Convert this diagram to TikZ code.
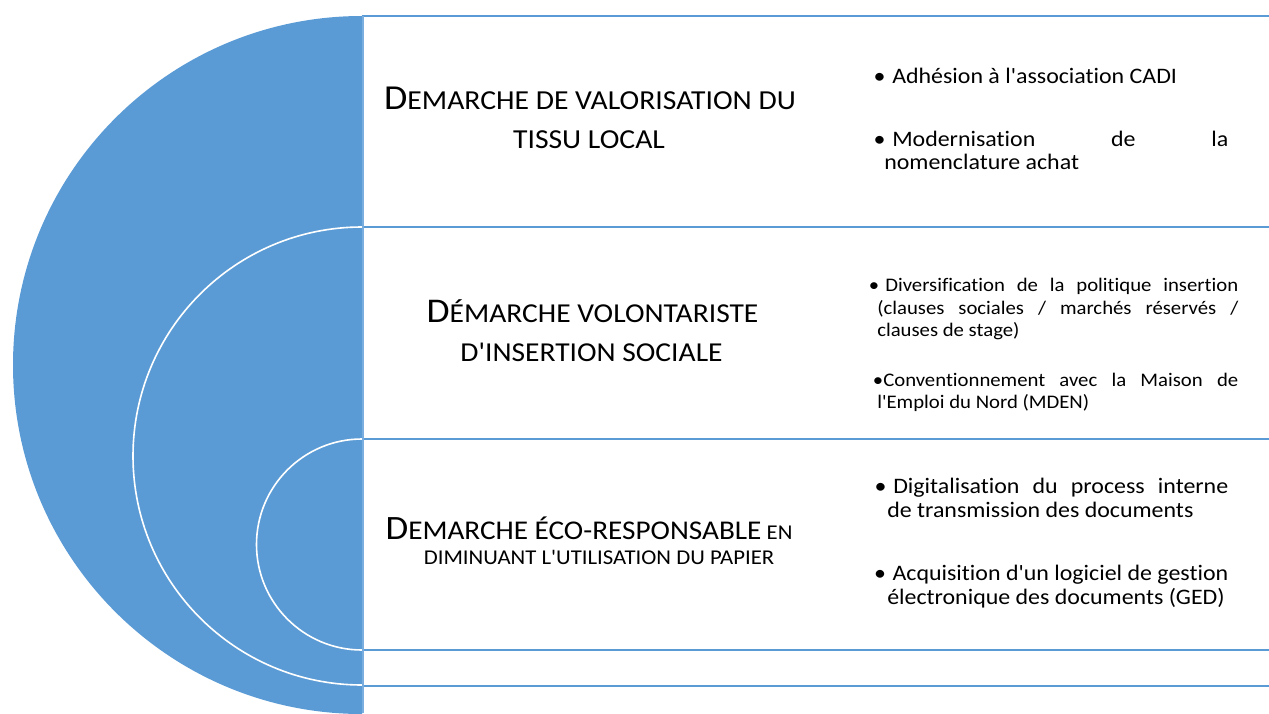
\documentclass[tikz,border=0pt]{standalone}
\usepackage{fontspec}
\setmainfont{Carlito}[Ligatures={TeXOff,NoCommon},FakeStretch=1.08]
\definecolor{accent}{HTML}{5B9BD5}
\definecolor{divider}{HTML}{79AEDF}
% bullet hanging to the left of the first line of an item
\newcommand\blt[2]{\leavevmode\hspace*{#1}\llap{\textbullet\hspace*{#2}}}
\newcommand\fs[1]{\fontsize{#1}{#1}\selectfont}
\begin{document}
\begin{tikzpicture}[x=0.75pt,y=-0.75pt,
  rowline/.style={draw=accent,line width=1.5pt},
  ringline/.style={draw=white,line width=1.2pt},
  title/.style={anchor=base,inner sep=0pt},
  item/.style={anchor=base west,inner sep=0pt,align=justify}]
\useasboundingbox (0,0) rectangle (1269,713);
\clip (0,0) rectangle (1269,713);

% large half disc with the two nested rings
\fill[accent] (362,16) arc[start angle=270,end angle=90,radius=349] -- cycle;
\draw[ringline] (362,227) arc[start angle=270,end angle=90,radius=229];
\draw[ringline] (362,439) arc[start angle=270,end angle=90,radius=105.5];

% row separators and the left border of the rows
\foreach \yy in {16,227,439,650,686}
  \draw[rowline] (362,\yy) -- (1269,\yy);
\draw[draw=divider,line width=1.5pt] (362.5,16) -- (362.5,713);

% titles
\node[title] (t1a) at (590,110) {{\fs{26.3pt}D}{\fs{20.6pt}EMARCHE DE VALORISATION DU}};
\node[title] (t1b) at (589,148.3) {\fs{20.6pt}TISSU LOCAL};
\node[title] (t2a) at (592.5,322.7) {{\fs{26pt}D}{\fs{20.5pt}ÉMARCHE VOLONTARISTE}};
\node[title] (t2b) at (591.5,361.7) {\fs{20.5pt}D'INSERTION SOCIALE};
\node[title] (t3a) at (589,539.3) {{\fs{25.6pt}D}{\fs{20.3pt}EMARCHE ÉCO-RESPONSABLE}{\fs{15.8pt} EN}};
\node[title] (t3b) at (599,564.3) {\fs{15.8pt}DIMINUANT L'UTILISATION DU PAPIER};

% first row items
\begin{scope}[font=\fontsize{16.6pt}{17.4pt}\selectfont]
\node[item,text width=258pt] (i1a) at (884,83.3)
  {\blt{6pt}{5pt}Adhésion à l'association CADI};
\node[item,text width=258pt] (i1b) at (884,146.7)
  {\blt{6pt}{5pt}Modernisation de la\linebreak nomenclature achat};
\end{scope}

% second row items
\begin{scope}[font=\fontsize{14.4pt}{16.9pt}\selectfont]
\node[item,text width=270.75pt] (i2a) at (877,291.7)
  {\blt{6pt}{4.5pt}Diversification de la politique insertion\linebreak
   (clauses sociales / marchés réservés /\linebreak clauses de stage)};
\node[item,text width=270.75pt] (i2b) at (877,386)
  {\blt{4.5pt}{0pt}Conventionnement avec la Maison de\linebreak
   l'Emploi du Nord (MDEN)};
\end{scope}

% third row items
\begin{scope}[font=\fontsize{16.6pt}{18.4pt}\selectfont]
\node[item,text width=255.75pt] (i3a) at (887,493.3)
  {\blt{4.5pt}{5pt}Digitalisation du process interne\linebreak
   de transmission des documents};
\node[item,text width=255.75pt] (i3b) at (887,580)
  {\blt{4pt}{5pt}Acquisition d'un logiciel de gestion\linebreak
   électronique des documents (GED)};
\end{scope}
\end{tikzpicture}
\end{document}
